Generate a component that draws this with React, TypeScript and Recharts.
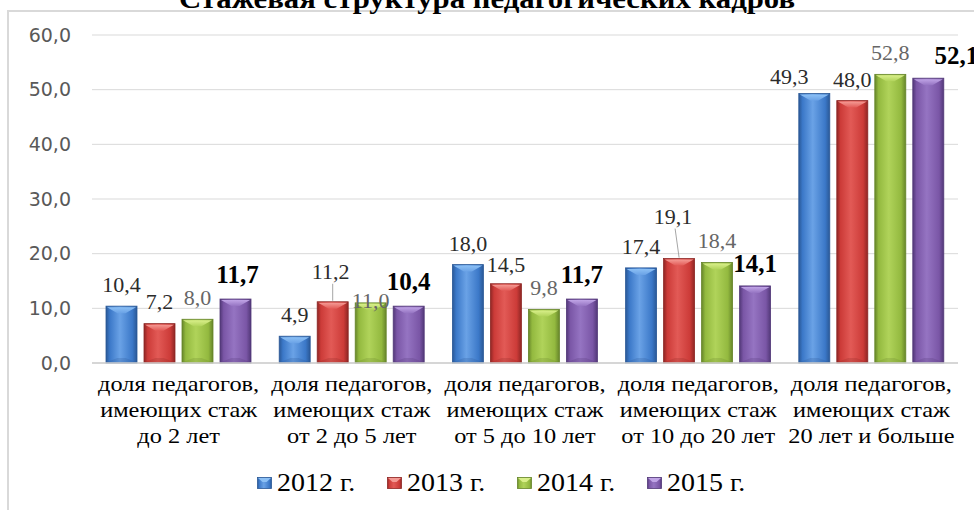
import React from "react";
import { BarChart, Bar, XAxis, YAxis, CartesianGrid, Legend, LabelList } from "recharts";

const categories = [
  "доля педагогов, имеющих стаж до 2 лет",
  "доля педагогов, имеющих стаж от 2 до 5 лет",
  "доля педагогов, имеющих стаж от 5 до 10 лет",
  "доля педагогов, имеющих стаж от 10 до 20 лет",
  "доля педагогов, имеющих стаж 20 лет и больше",
];
const categoryLines = [
  ["доля педагогов,", "имеющих стаж", "до 2 лет"],
  ["доля педагогов,", "имеющих стаж", "от 2 до 5 лет"],
  ["доля педагогов,", "имеющих стаж", "от 5 до 10 лет"],
  ["доля педагогов,", "имеющих стаж", "от 10 до 20 лет"],
  ["доля педагогов,", "имеющих стаж", "20 лет и больше"],
];
const y2012 = [10.4, 4.9, 18.0, 17.4, 49.3];
const y2013 = [7.2, 11.2, 14.5, 19.1, 48.0];
const y2014 = [8.0, 11.0, 9.8, 18.4, 52.8];
const y2015 = [11.7, 10.4, 11.7, 14.1, 52.1];
const yTicks = [0, 10, 20, 30, 40, 50, 60];
const title = "Стажевая структура педагогических кадров";

// manual label nudges [dx, dy] as in the original (per series, per category)
const labelNudge = [
  [[0, 0], [0, 0], [0, 0], [0, 0], [-25, 5]],
  [[0, -1], [-2, -9], [0, 2], [-6, -21], [0, 0]],
  [[0, 0], [0, 19], [0, 0], [0, 0], [0, 0]],
  [[2, -2], [0, -2], [0, -2], [0, 0], [28, 0]],
];

const series = [
  { key: "y2012", name: "2012 г.", dark: "#2a5896", base: "#3b78c8", light: "#6aa2e6", top: "#8cc0f5", label: "#2b2b2b", bold: false },
  { key: "y2013", name: "2013 г.", dark: "#8e2624", base: "#cc3b38", light: "#e25a56", top: "#f49a94", label: "#2b2b2b", bold: false },
  { key: "y2014", name: "2014 г.", dark: "#66852a", base: "#93b93f", light: "#b0d35a", top: "#d9ef8a", label: "#666666", bold: false },
  { key: "y2015", name: "2015 г.", dark: "#523878", base: "#7a56a6", light: "#9574c2", top: "#c0a4e6", label: "#000000", bold: true },
];

const data = categories.map((c, i) => ({
  name: c,
  y2012: y2012[i],
  y2013: y2013[i],
  y2014: y2014[i],
  y2015: y2015[i],
}));

const fmt = (v: number) => v.toFixed(1).replace(".", ",");
const serif = "Liberation Serif, DejaVu Serif, serif";

const BevelBar = (props: any) => {
  const { x, y, width, height, idx } = props;
  if (!height || height <= 0) return null;
  const s = series[idx];
  const b = Math.min(7, height / 2);
  return (
    <g>
      <rect x={x} y={y} width={width} height={height} fill={`url(#body-${idx})`} stroke={s.dark} strokeWidth={0.8} />
      <polygon
        points={`${x + 1},${y + 1} ${x + width - 1},${y + 1} ${x + width / 2 + 4},${y + b} ${x + width / 2 - 4},${y + b}`}
        fill={`url(#top-${idx})`}
      />
      <polygon
        points={`${x + 1},${y + height - 1} ${x + width - 1},${y + height - 1} ${x + width / 2 + 4},${y + height - b + 2} ${x + width / 2 - 4},${y + height - b + 2}`}
        fill={s.dark}
        opacity={0.25}
      />
    </g>
  );
};

const makeLabel = (idx: number) => (props: any) => {
  const { x, y, width, value, index } = props;
  const s = series[idx];
  const [dx, dy] = labelNudge[idx][index] || [0, 0];
  const cx = x + width / 2;
  const lx = cx + dx;
  const ly = y - 14 + dy;
  return (
    <g>
      {dy < -8 && <line x1={lx + 2} y1={ly + 5} x2={cx} y2={y - 1} stroke="#a6a6a6" strokeWidth={1} />}
      <text
        x={lx}
        y={ly}
        textAnchor="middle"
        style={{ fontFamily: serif }}
        fontSize={s.bold ? 25 : 22}
        fontWeight={s.bold ? "bold" : "normal"}
        fill={s.label}
      >
        {fmt(value)}
      </text>
    </g>
  );
};

const CategoryTick = (props: any) => {
  const { x, y, payload } = props;
  const lines = categoryLines[payload.index] || [];
  return (
    <g transform={`translate(${x},${y}) scale(1.16,1)`}>
      <text x={0} y={0} textAnchor="middle" style={{ fontFamily: serif }} fontSize={21} fill="#000">
        {lines.map((l, i) => (
          <tspan key={i} x={0} dy={i === 0 ? 20 : 26}>
            {l}
          </tspan>
        ))}
      </text>
    </g>
  );
};

const LegendBox = () => (
  <div style={{ display: "flex", fontFamily: serif, fontSize: 25, color: "#000", lineHeight: "30px" }}>
    {series.map((s, i) => (
      <div key={s.key} style={{ display: "flex", alignItems: "center", width: 130 }}>
        <svg width={15} height={12} style={{ marginRight: 5 }}>
          <rect x={0.5} y={0.5} width={14} height={11} fill={`url(#body-${i})`} stroke={s.dark} strokeWidth={0.8} />
          <polygon points={`1,1 14,1 9.5,5 5.5,5`} fill={s.top} />
        </svg>
        <span style={{ display: "inline-block", transform: "scaleX(1.12)", transformOrigin: "left center", whiteSpace: "nowrap" }}>
          {s.name}
        </span>
      </div>
    ))}
  </div>
);

export default function App() {
  return (
    <div style={{ position: "absolute", left: 0, top: 0, width: 974, height: 510, overflow: "hidden", background: "#fff" }}>
      <div
        style={{
          position: "absolute",
          left: 7,
          top: 10,
          width: 1100,
          height: 600,
          border: "2px solid #d9d9d9",
        }}
      />
      <svg style={{ position: "absolute", left: 0, top: 0 }} width={974} height={20}>
        <g transform="translate(487,8) scale(1.14,1)">
          <text x={0} y={0} textAnchor="middle" style={{ fontFamily: serif }} fontWeight="bold" fontSize={27} fill="#000">
            {title}
          </text>
        </g>
      </svg>
      <div style={{ position: "absolute", left: 0, top: 0 }}>
        <BarChart
          width={974}
          height={510}
          data={data}
          margin={{ top: 35, right: 16, left: 0, bottom: 57 }}
          barCategoryGap={14}
          barGap={7}
        >
          <defs>
            {series.map((s, i) => (
              <React.Fragment key={s.key}>
                <linearGradient id={`body-${i}`} x1="0" y1="0" x2="1" y2="0">
                  <stop offset="0%" stopColor={s.dark} />
                  <stop offset="12%" stopColor={s.base} />
                  <stop offset="45%" stopColor={s.light} />
                  <stop offset="85%" stopColor={s.base} />
                  <stop offset="100%" stopColor={s.dark} />
                </linearGradient>
                <linearGradient id={`top-${i}`} x1="0" y1="0" x2="0" y2="1">
                  <stop offset="0%" stopColor={s.top} />
                  <stop offset="100%" stopColor={s.light} />
                </linearGradient>
              </React.Fragment>
            ))}
          </defs>
          <CartesianGrid vertical={false} stroke="#d9d9d9" />
          <XAxis
            dataKey="name"
            height={90}
            tickLine={false}
            axisLine={{ stroke: "#cfcfcf", strokeWidth: 1.5 }}
            tick={<CategoryTick />}
            interval={0}
          />
          <YAxis
            width={92}
            domain={[0, 60]}
            ticks={yTicks}
            axisLine={false}
            tickLine={false}
            tickSize={0}
            tickMargin={21}
            tickFormatter={fmt}
            tick={{ fill: "#595959", fontSize: 19, fontFamily: "DejaVu Sans, sans-serif" }}
          />
          <Legend
            verticalAlign="middle"
            align="center"
            layout="horizontal"
            wrapperStyle={{ top: 468, left: 257, width: 540 }}
            content={<LegendBox />}
          />
          {series.map((s, i) => (
            <Bar
              key={s.key}
              dataKey={s.key}
              name={s.name}
              fill={s.base}
              isAnimationActive={false}
              shape={(p: any) => <BevelBar {...p} idx={i} />}
            >
              <LabelList dataKey={s.key} content={makeLabel(i)} />
            </Bar>
          ))}
        </BarChart>
      </div>
    </div>
  );
}
